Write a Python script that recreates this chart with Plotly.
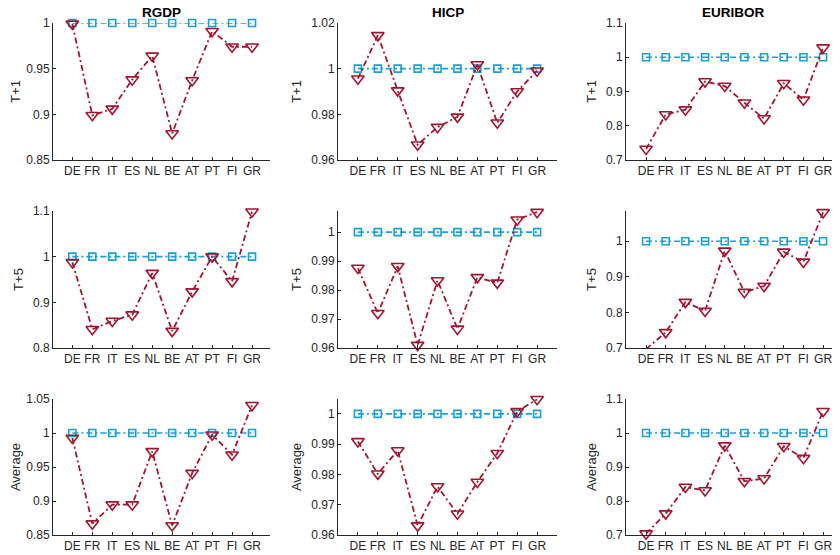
import plotly.graph_objects as go

countries = ["DE", "FR", "IT", "ES", "NL", "BE", "AT", "PT", "FI", "GR"]
benchmark = [1, 1, 1, 1, 1, 1, 1, 1, 1, 1]

row_labels = ["T+1", "T+5", "Average"]
col_titles = ["RGDP", "HICP", "EURIBOR"]

rgdp_t1 = [0.999, 0.899, 0.906, 0.938, 0.964, 0.879, 0.937, 0.991, 0.974, 0.974]
hicp_t1 = [0.9956, 1.0146, 0.9904, 0.9667, 0.9744, 0.9789, 1.0018, 0.9763, 0.990, 0.9991]
euribor_t1 = [0.732, 0.833, 0.847, 0.929, 0.916, 0.867, 0.821, 0.924, 0.876, 1.028]

rgdp_t5 = [0.9875, 0.841, 0.859, 0.873, 0.964, 0.837, 0.9235, 1.0, 0.946, 1.0985]
hicp_t5 = [0.9876, 0.972, 0.9882, 0.961, 0.9833, 0.9666, 0.9844, 0.9825, 1.0043, 1.0069]
euribor_t5 = [0.697, 0.744, 0.829, 0.804, 0.973, 0.857, 0.874, 0.970, 0.942, 1.081]

rgdp_avg = [0.9926, 0.8667, 0.8946, 0.8946, 0.973, 0.864, 0.941, 0.9975, 0.968, 1.0407]
hicp_avg = [0.9909, 0.9802, 0.9879, 0.9631, 0.976, 0.967, 0.9775, 0.987, 1.0008, 1.0048]
euribor_avg = [0.704, 0.763, 0.841, 0.831, 0.963, 0.858, 0.866, 0.961, 0.926, 1.064]

series = [
    [rgdp_t1, hicp_t1, euribor_t1],
    [rgdp_t5, hicp_t5, euribor_t5],
    [rgdp_avg, hicp_avg, euribor_avg],
]

y_ranges = [
    [[0.85, 1.0], [0.96, 1.02], [0.7, 1.1]],
    [[0.8, 1.1], [0.96, 1.0073], [0.7, 1.085]],
    [[0.85, 1.05], [0.96, 1.0049], [0.7, 1.1]],
]
y_ticks = [
    [[0.85, 0.9, 0.95, 1], [0.96, 0.98, 1, 1.02], [0.7, 0.8, 0.9, 1, 1.1]],
    [[0.8, 0.9, 1, 1.1], [0.96, 0.97, 0.98, 0.99, 1], [0.7, 0.8, 0.9, 1]],
    [[0.85, 0.9, 0.95, 1, 1.05], [0.96, 0.97, 0.98, 0.99, 1], [0.7, 0.8, 0.9, 1, 1.1]],
]
y_ticktext = [
    [["0.85", "0.9", "0.95", "1"], ["0.96", "0.98", "1", "1.02"], ["0.7", "0.8", "0.9", "1", "1.1"]],
    [["0.8", "0.9", "1", "1.1"], ["0.96", "0.97", "0.98", "0.99", "1"], ["0.7", "0.8", "0.9", "1"]],
    [["0.85", "0.9", "0.95", "1", "1.05"], ["0.96", "0.97", "0.98", "0.99", "1"], ["0.7", "0.8", "0.9", "1", "1.1"]],
]

# page has an 8px body margin, so the figure is sized to fit the window
W, H = 832, 547
col_px = [(45, 262), (330, 549), (618, 832)]
x_ranges = [[0.03, 10.9], [0.0, 11.0], [-0.02, 10.86]]
row_px = [(15, 152), (203, 340), (391, 527)]

RED = "#A2142F"
BLUE = "#1A9FD6"
AXC = "#262626"
FONT = "Liberation Sans, Arial, sans-serif"
DASH = "6px,3px,2px,3px"

xpos = list(range(1, len(countries) + 1))

fig = go.Figure()
layout = {}
for r in range(3):
    for c in range(3):
        k = r * 3 + c + 1
        xa = "x" if k == 1 else f"x{k}"
        ya = "y" if k == 1 else f"y{k}"
        fig.add_trace(go.Scatter(
            x=xpos, y=benchmark, xaxis=xa, yaxis=ya, mode="lines+markers",
            line=dict(color=BLUE, width=1.6, dash=DASH),
            marker=dict(symbol="square-open", size=7, color=BLUE, line=dict(width=1.6, color=BLUE)),
            showlegend=False, cliponaxis=False))
        fig.add_trace(go.Scatter(
            x=xpos, y=series[r][c], xaxis=xa, yaxis=ya, mode="lines+markers",
            line=dict(color=RED, width=1.8, dash=DASH),
            marker=dict(symbol="triangle-down-open", size=11, color=RED, line=dict(width=1.6, color=RED)),
            showlegend=False, cliponaxis=False))
        x0, x1 = col_px[c]
        y0, y1 = row_px[r]
        xkey = "xaxis" if k == 1 else f"xaxis{k}"
        ykey = "yaxis" if k == 1 else f"yaxis{k}"
        layout[xkey] = dict(
            domain=[x0 / W, min(x1 / W, 1.0)], anchor=ya, range=x_ranges[c],
            tickvals=xpos, ticktext=countries, ticks="inside", ticklen=3, tickcolor=AXC,
            showline=True, linecolor=AXC, linewidth=1, showgrid=False, zeroline=False,
            tickfont=dict(family=FONT, size=12, color=AXC), fixedrange=True, automargin=False)
        layout[ykey] = dict(
            domain=[1 - y1 / H, 1 - y0 / H], anchor=xa, range=y_ranges[r][c],
            tickvals=y_ticks[r][c], ticktext=y_ticktext[r][c], ticks="inside", ticklen=3, tickcolor=AXC,
            showline=True, linecolor=AXC, linewidth=1, showgrid=False, zeroline=False,
            tickfont=dict(family=FONT, size=12, color=AXC),
            title=dict(text=row_labels[r], font=dict(family=FONT, size=13, color=AXC), standoff=6),
            fixedrange=True, automargin=False)

annotations = []
for c in range(3):
    x0, x1 = col_px[c]
    cx = (x0 + x1) / 2 / W
    annotations.append(dict(
        text="<b>" + col_titles[c] + "</b>", x=cx, y=1 - 5 / H, xref="paper", yref="paper",
        showarrow=False, xanchor="center", yanchor="middle",
        font=dict(family=FONT, size=13.5, color="#000000")))

fig.update_layout(
    width=W, height=H, margin=dict(l=0, r=0, t=0, b=0, autoexpand=False),
    paper_bgcolor="white", plot_bgcolor="white", annotations=annotations,
    **layout)

fig.write_html("out.html")
